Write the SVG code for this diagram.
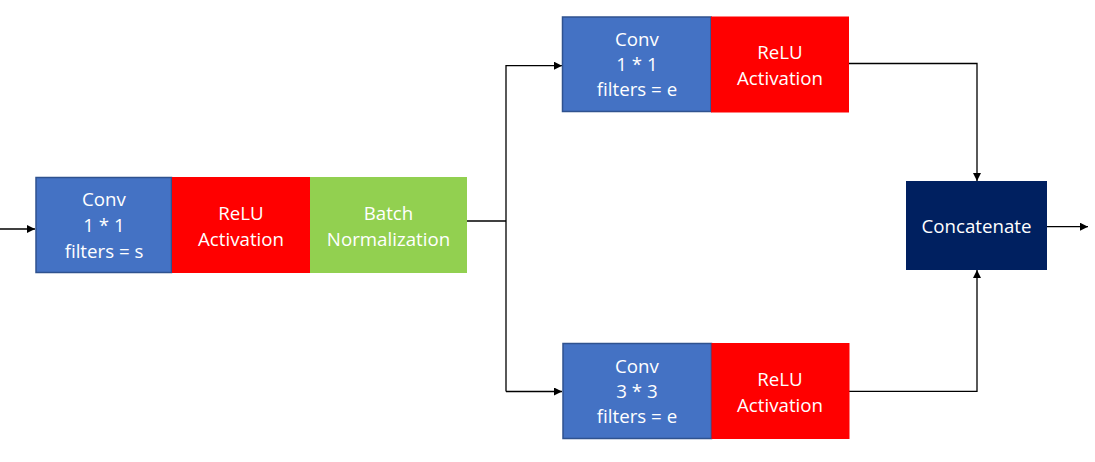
<svg xmlns="http://www.w3.org/2000/svg" width="1095" height="462" viewBox="0 0 1095 462">
<style>
.conv{fill:#4472C4;stroke:#2F528F;stroke-width:1.5}
.relu{fill:#FF0000}
.bn{fill:#92D050}
.cat{fill:#002060}
text{font-family:"Open Sans","Liberation Sans",sans-serif;font-size:18.7px;fill:#FFFFFF;text-anchor:middle}
.wire{fill:none;stroke:#000000;stroke-width:1.3}
</style>
<defs>
<marker id="ah" viewBox="0 0 10 10" refX="10" refY="5" markerWidth="8" markerHeight="8" markerUnits="userSpaceOnUse" orient="auto">
<path d="M0,0 L10,5 L0,10 Z" fill="#000000"/>
</marker>
</defs>
<rect width="1095" height="462" fill="#FFFFFF"/>
<g id="connectors">
<path class="wire" d="M0,229 L35,229" marker-end="url(#ah)"/>
<path class="wire" d="M467,221 L506,221"/>
<path class="wire" d="M506,391.5 L506,65.7 L562,65.7" marker-end="url(#ah)"/>
<path class="wire" d="M506,391.5 L562,391.5" marker-end="url(#ah)"/>
<path class="wire" d="M849,63.5 L977,63.5 L977,181" marker-end="url(#ah)"/>
<path class="wire" d="M849,391.3 L977,391.3 L977,270" marker-end="url(#ah)"/>
<path class="wire" d="M1047,226.7 L1088,226.7" marker-end="url(#ah)"/>
</g>
<g id="conv-s">
<rect class="conv" x="36" y="177.5" width="135.5" height="95"/>
<text x="104" y="206">Conv</text>
<text x="104" y="232">1 * 1</text>
<text x="104" y="258">filters = s</text>
</g>
<g id="relu-1">
<rect class="relu" x="172" y="177" width="138" height="96"/>
<text x="241" y="220">ReLU</text>
<text x="241" y="246">Activation</text>
</g>
<g id="batchnorm">
<rect class="bn" x="310" y="177" width="157" height="96"/>
<text x="388.5" y="220">Batch</text>
<text x="388.5" y="246">Normalization</text>
</g>
<g id="conv-e1">
<rect class="conv" x="562.5" y="17" width="148.5" height="94.5"/>
<text x="637" y="46">Conv</text>
<text x="637" y="71">1 * 1</text>
<text x="637" y="96">filters = e</text>
</g>
<g id="relu-2">
<rect class="relu" x="711" y="16.5" width="138" height="96"/>
<text x="780" y="59">ReLU</text>
<text x="780" y="85">Activation</text>
</g>
<g id="conv-e3">
<rect class="conv" x="563" y="343.5" width="148.5" height="95"/>
<text x="637" y="372.5">Conv</text>
<text x="637" y="397.5">3 * 3</text>
<text x="637" y="422.5">filters = e</text>
</g>
<g id="relu-3">
<rect class="relu" x="711.5" y="343" width="138" height="96"/>
<text x="780" y="386">ReLU</text>
<text x="780" y="412">Activation</text>
</g>
<g id="concatenate">
<rect class="cat" x="906" y="181" width="141" height="89"/>
<text x="976.5" y="233">Concatenate</text>
</g>
</svg>
